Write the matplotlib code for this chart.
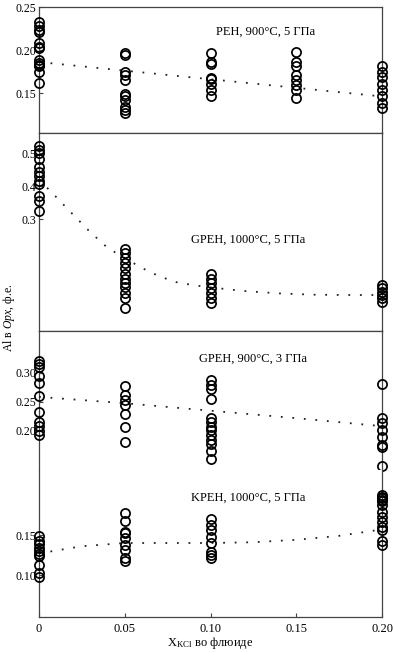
import matplotlib
matplotlib.use("Agg")
import matplotlib.pyplot as plt

plt.rcParams['font.family'] = ['Liberation Serif', 'DejaVu Serif']
plt.rcParams['mathtext.fontset'] = 'custom'
plt.rcParams['mathtext.rm'] = 'Liberation Serif'
plt.rcParams['mathtext.it'] = 'Liberation Serif:italic'

# X_KCl in fluid for each experiment group
x_peh = [0, 0.05, 0.10, 0.15, 0.20]
x_other = [0, 0.05, 0.10, 0.20]

# Al in Opx (f.u.), one list per X_KCl group
peh_900_5 = [
    [0.233, 0.228, 0.223, 0.221, 0.208, 0.203, 0.202, 0.188, 0.185, 0.183, 0.181, 0.175, 0.162],
    [0.196, 0.194, 0.175, 0.171, 0.165, 0.149, 0.146, 0.142, 0.134, 0.130, 0.127],
    [0.197, 0.186, 0.184, 0.168, 0.166, 0.161, 0.153, 0.146],
    [0.198, 0.186, 0.181, 0.171, 0.165, 0.159, 0.153, 0.144],
    [0.181, 0.175, 0.169, 0.161, 0.153, 0.146, 0.138, 0.132],
]
gpeh_1000_5 = [
    [0.521, 0.511, 0.501, 0.481, 0.457, 0.443, 0.432, 0.417, 0.405, 0.370, 0.356, 0.324],
    [0.211, 0.198, 0.181, 0.168, 0.151, 0.135, 0.120, 0.105, 0.095, 0.077, 0.060, 0.032],
    [0.135, 0.120, 0.105, 0.090, 0.075, 0.060, 0.045],
    [0.100, 0.090, 0.080, 0.070, 0.060, 0.049],
]
gpeh_900_3 = [
    [0.321, 0.316, 0.310, 0.295, 0.282, 0.260, 0.231, 0.215, 0.208, 0.199, 0.192],
    [0.277, 0.261, 0.253, 0.244, 0.229, 0.206, 0.180],
    [0.287, 0.279, 0.271, 0.254, 0.221, 0.215, 0.206, 0.200, 0.192, 0.183, 0.176, 0.164, 0.149],
    [0.280, 0.221, 0.213, 0.200, 0.189, 0.174, 0.170, 0.138],
]
kpeh_1000_5 = [
    [0.149, 0.143, 0.139, 0.134, 0.130, 0.126, 0.124, 0.112, 0.1025, 0.098],
    [0.177, 0.167, 0.154, 0.152, 0.146, 0.1375, 0.131, 0.121, 0.118],
    [0.170, 0.1625, 0.156, 0.148, 0.140, 0.129, 0.125, 0.121],
    [0.200, 0.198, 0.196, 0.194, 0.192, 0.1875, 0.179, 0.173, 0.1665, 0.160, 0.156, 0.142, 0.1375],
]

# dotted trend curves
trend_peh_x = [0, 0.05, 0.10, 0.15, 0.20]
trend_peh_y = [0.186, 0.176, 0.166, 0.156, 0.146]
trend_gpeh1000_x = [0, 0.01, 0.02, 0.03, 0.04, 0.05, 0.06, 0.07, 0.08, 0.09, 0.10, 0.12, 0.14, 0.16, 0.18, 0.20]
trend_gpeh1000_y = [0.42, 0.367, 0.313, 0.26, 0.213, 0.182, 0.152, 0.127, 0.109, 0.100, 0.093, 0.082, 0.075, 0.071, 0.070, 0.070]
trend_gpeh900_x = [0, 0.05, 0.10, 0.15, 0.20]
trend_gpeh900_y = [0.258, 0.247, 0.234, 0.221, 0.207]
trend_kpeh_x = [0, 0.025, 0.05, 0.10, 0.125, 0.15, 0.175, 0.20]
trend_kpeh_y = [0.127, 0.136, 0.140, 0.140, 0.141, 0.144, 0.149, 0.157]

x_ticks = [0, 0.05, 0.10, 0.15, 0.20]
x_ticklabels = ['0', '0.05', '0.10', '0.15', '0.20']

spine_color = '#444444'


def draw_series(ax, xs, groups):
    for xv, vals in zip(xs, groups):
        ax.plot([xv] * len(vals), vals, 'o', ms=6.6, mfc='none', mec='black',
                mew=1.25, clip_on=False, zorder=5)


def draw_trend(ax, tx, ty):
    ax.plot(tx, ty, color='#222222', lw=1.3, linestyle=(0, (1, 5.4)), zorder=3)


def style_axis(ax, yticks, ylabels):
    ax.set_xlim(0, 0.20)
    ax.set_yticks(yticks)
    ax.set_yticklabels(ylabels)
    ax.tick_params(axis='y', direction='in', length=3, pad=2, labelsize=8.5,
                   color=spine_color)
    ax.tick_params(axis='x', bottom=False, labelbottom=False)
    for s in ax.spines.values():
        s.set_color(spine_color)
        s.set_linewidth(0.9)


fig = plt.figure(figsize=(3.93, 6.53), dpi=100)
left, width = 39 / 393, 343 / 393
H = 653

ax1 = fig.add_axes([left, 1 - 133 / H, width, 126 / H])
ax2 = fig.add_axes([left, 1 - 331 / H, width, 198 / H])
ax3a = fig.add_axes([left, 1 - 470 / H, width, 139 / H])
ax3b = fig.add_axes([left, 1 - 617 / H, width, 147 / H])

# top panel
draw_trend(ax1, trend_peh_x, trend_peh_y)
draw_series(ax1, x_peh, peh_900_5)
ax1.set_ylim(0.1035, 0.25)
style_axis(ax1, [0.15, 0.20, 0.25], ['0.15', '0.20', '0.25'])
ax1.text(0.66, 0.8, 'PEH, 900°C, 5 ГПа', transform=ax1.transAxes,
         ha='center', va='center', fontsize=9)

# middle panel
draw_trend(ax2, trend_gpeh1000_x, trend_gpeh1000_y)
draw_series(ax2, x_other, gpeh_1000_5)
ax2.set_ylim(-0.039, 0.561)
style_axis(ax2, [0.3, 0.4, 0.5], ['0.3', '0.4', '0.5'])
ax2.text(0.61, 0.46, 'GPEH, 1000°C, 5 ГПа', transform=ax2.transAxes,
         ha='center', va='center', fontsize=9)

# bottom panel, two scales in one frame
draw_trend(ax3a, trend_gpeh900_x, trend_gpeh900_y)
draw_series(ax3a, x_other, gpeh_900_3)
ax3a.set_ylim(0.1307, 0.3728)
style_axis(ax3a, [0.20, 0.25, 0.30], ['0.20', '0.25', '0.30'])
ax3a.spines['bottom'].set_visible(False)
ax3a.text(0.625, 0.8, 'GPEH, 900°C, 3 ГПа', transform=ax3a.transAxes,
          ha='center', va='center', fontsize=9)

draw_trend(ax3b, trend_kpeh_x, trend_kpeh_y)
draw_series(ax3b, x_other, kpeh_1000_5)
ax3b.set_ylim(0.0475, 0.2313)
style_axis(ax3b, [0.10, 0.15], ['0.10', '0.15'])
ax3b.spines['top'].set_visible(False)
ax3b.set_xticks(x_ticks)
ax3b.set_xticklabels(x_ticklabels)
ax3b.tick_params(axis='x', bottom=True, labelbottom=True, direction='in',
                 length=3, pad=4, labelsize=9, color=spine_color)
ax3b.text(0.61, 0.81, 'KPEH, 1000°C, 5 ГПа', transform=ax3b.transAxes,
          ha='center', va='center', fontsize=9)
ax3b.set_xlabel(r'X$_{\rm KCl}$ во флюиде', fontsize=9, labelpad=0)

fig.text(0.022, 1 - 318 / H, r'Al в $\it{Opx}$, ф.е.', rotation=90,
         ha='center', va='center', fontsize=8.5)

fig.savefig('out.png', dpi=100)
